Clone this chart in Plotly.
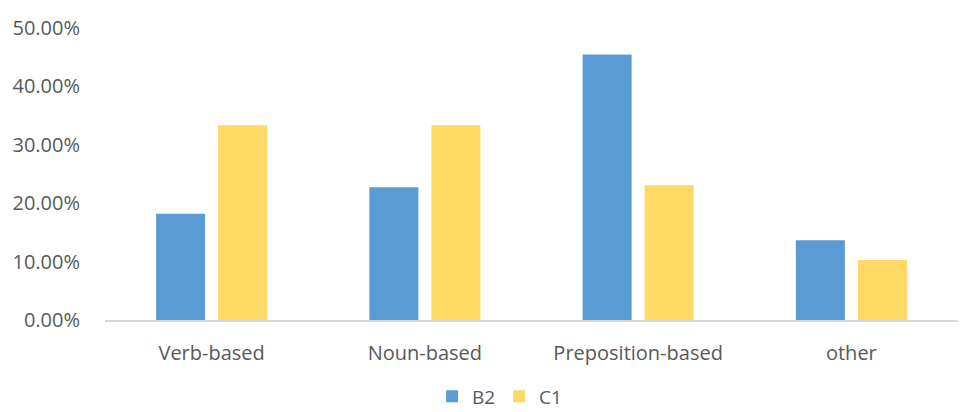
import plotly.graph_objects as go

# Share of constructions by type, per proficiency level
categories = ["Verb-based", "Noun-based", "Preposition-based", "other"]
b2_values = [0.1818, 0.2273, 0.4545, 0.1364]
c1_values = [0.3333, 0.3333, 0.2308, 0.1026]
y_ticks = [0, 0.1, 0.2, 0.3, 0.4, 0.5]

font_family = "Open Sans, Liberation Sans, sans-serif"
text_color = "#595959"
label_size = 20

fig = go.Figure()
fig.add_trace(go.Bar(name="B2", x=categories, y=b2_values,
                     marker=dict(color="#5b9bd5", line=dict(width=0))))
fig.add_trace(go.Bar(name="C1", x=categories, y=c1_values,
                     marker=dict(color="#ffd966", line=dict(width=0))))

fig.update_layout(
    width=962, height=412,
    margin=dict(l=105, r=4, t=28, b=92, autoexpand=False),
    paper_bgcolor="white", plot_bgcolor="white",
    barmode="group", bargap=0.418, bargroupgap=0.21,
    font=dict(family=font_family, size=label_size, color=text_color),
    showlegend=True,
    legend=dict(orientation="h", x=0.462, xanchor="center", y=-0.262, yanchor="middle",
                font=dict(size=19, color=text_color), itemwidth=30,
                entrywidth=22, entrywidthmode="pixels",
                tracegroupgap=0, itemclick=False),
    xaxis=dict(showgrid=False, showline=True, linecolor="#d9d9d9", linewidth=2,
               ticks="outside", ticklen=14, tickcolor="rgba(0,0,0,0)",
               automargin=False,
               tickfont=dict(size=label_size, color=text_color)),
    yaxis=dict(range=[0, 0.5], tickvals=y_ticks, tickformat=".2%",
               showgrid=False, zeroline=False, showline=False,
               ticks="outside", ticklen=20, tickcolor="rgba(0,0,0,0)",
               automargin=False,
               tickfont=dict(size=label_size, color=text_color)),
)

fig.write_html("out.html")
